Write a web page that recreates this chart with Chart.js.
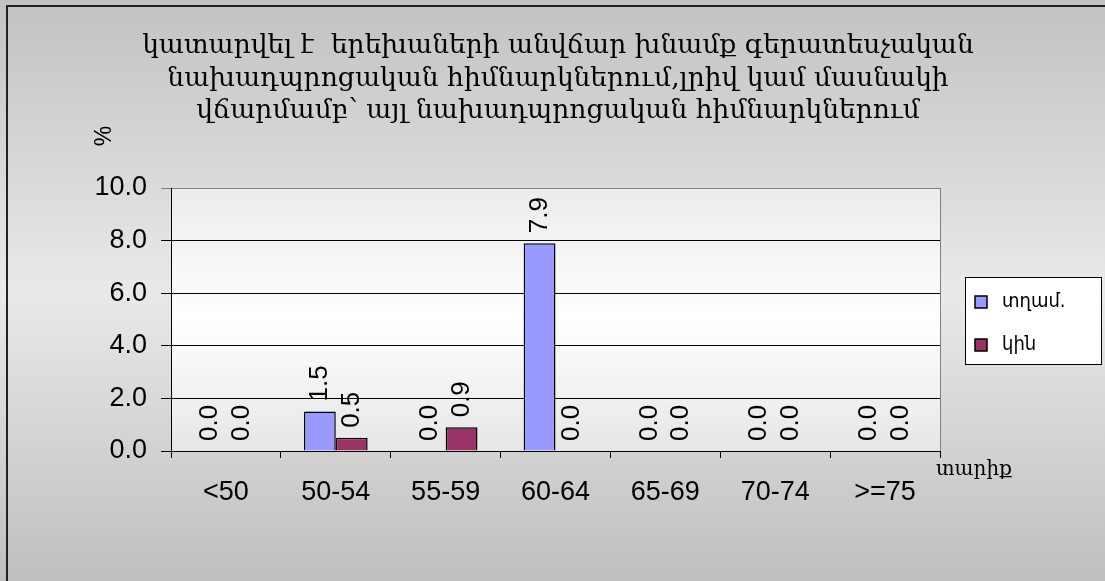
<!DOCTYPE html>
<html>
<head>
<meta charset="utf-8">
<script src="https://cdn.jsdelivr.net/npm/chart.js@4/dist/chart.umd.min.js"></script>
<style>
  body { margin: 0; background: #fff; }
  #wrap { width: 1105px; height: 581px; }
</style>
</head>
<body>
<div id="wrap"><canvas id="chart" width="1105" height="581"></canvas></div>
<script>
// chart data
const categories = ['<50', '50-54', '55-59', '60-64', '65-69', '70-74', '>=75'];
const menValues = [0.0, 1.5, 0.0, 7.9, 0.0, 0.0, 0.0];
const womenValues = [0.0, 0.5, 0.9, 0.0, 0.0, 0.0, 0.0];
const seriesNames = ['տղամ.', 'կին'];
const titleLines = [
  'կատարվել է  երեխաների անվճար խնամք գերատեսչական',
  'նախադպրոցական հիմնարկներում,լրիվ կամ մասնակի',
  'վճարմամբ՝ այլ նախադպրոցական հիմնարկներում'
];
const yAxisLabel = '%';
const xAxisLabel = 'տարիք';

const sansFont = '"Liberation Sans", Arial, "DejaVu Sans", sans-serif';
const serifFont = '"DejaVu Serif", serif';

// backgrounds, border, title, extra axis labels
const decorPlugin = {
  id: 'decor',
  beforeDraw(chart) {
    const ctx = chart.ctx;
    const w = chart.width, h = chart.height;
    let g = ctx.createLinearGradient(0, 0, 0, h);
    g.addColorStop(0, '#c2c2c2');
    g.addColorStop(0.5, '#e9e9e9');
    g.addColorStop(1, '#bfbfbf');
    ctx.save();
    ctx.fillStyle = g;
    ctx.fillRect(0, 0, w, h);

    const a = chart.chartArea;
    g = ctx.createLinearGradient(0, a.top, 0, a.bottom);
    g.addColorStop(0, '#ececec');
    g.addColorStop(0.5, '#ffffff');
    g.addColorStop(1, '#e6e6e6');
    ctx.fillStyle = g;
    ctx.fillRect(a.left, a.top, a.right - a.left, a.bottom - a.top);

    ctx.strokeStyle = '#222';
    ctx.lineWidth = 2;
    ctx.strokeRect(7, 6, w + 10, h + 10);
    ctx.restore();
  },
  afterDraw(chart) {
    const ctx = chart.ctx;
    const a = chart.chartArea;
    ctx.save();
    // right border of plot
    ctx.strokeStyle = '#808080';
    ctx.lineWidth = 1;
    ctx.beginPath();
    ctx.moveTo(a.right + 0.5, a.top);
    ctx.lineTo(a.right + 0.5, a.bottom);
    ctx.stroke();

    ctx.fillStyle = '#000';
    ctx.textAlign = 'center';
    ctx.textBaseline = 'alphabetic';
    ctx.font = '26.5px ' + serifFont;
    titleLines.forEach((line, i) => {
      ctx.fillText(line, 558, 53 + i * 32.5);
    });

    ctx.font = '20px ' + serifFont;
    ctx.textAlign = 'left';
    ctx.fillText(xAxisLabel, 936, 475);

    ctx.translate(105, 136);
    ctx.rotate(-Math.PI / 2);
    ctx.textAlign = 'center';
    ctx.textBaseline = 'middle';
    ctx.font = '23px ' + sansFont;
    ctx.fillText(yAxisLabel, 0, 0);
    ctx.restore();
  }
};

// rotated value labels above bars
const valueLabels = {
  id: 'valueLabels',
  afterDatasetsDraw(chart) {
    const ctx = chart.ctx;
    ctx.save();
    ctx.fillStyle = '#000';
    ctx.font = '26px ' + sansFont;
    ctx.textAlign = 'left';
    ctx.textBaseline = 'middle';
    chart.data.datasets.forEach((ds, i) => {
      chart.getDatasetMeta(i).data.forEach((bar, j) => {
        ctx.save();
        ctx.translate(bar.x, bar.y - 10);
        ctx.rotate(-Math.PI / 2);
        ctx.fillText(ds.data[j].toFixed(1), 0, 0);
        ctx.restore();
      });
    });
    ctx.restore();
  }
};

// boxed legend on the right
const boxLegend = {
  id: 'boxLegend',
  afterDraw(chart) {
    const ctx = chart.ctx;
    ctx.save();
    ctx.fillStyle = '#fff';
    ctx.fillRect(965, 277, 136, 87);
    ctx.strokeStyle = '#000';
    ctx.lineWidth = 1;
    ctx.strokeRect(965.5, 277.5, 136, 87);
    ctx.font = '20px "DejaVu Sans Condensed", "DejaVu Sans", sans-serif';
    ctx.textBaseline = 'middle';
    chart.data.datasets.forEach((ds, i) => {
      const cy = 302 + i * 43;
      ctx.fillStyle = ds.backgroundColor;
      ctx.fillRect(975, cy - 6, 12, 12);
      ctx.strokeStyle = '#000';
      ctx.lineWidth = 1.5;
      ctx.strokeRect(975, cy - 6, 12, 12);
      ctx.fillStyle = '#000';
      ctx.fillText(ds.label, 1002, cy);
    });
    ctx.restore();
  }
};

new Chart(document.getElementById('chart'), {
  type: 'bar',
  data: {
    labels: categories,
    datasets: [
      { label: seriesNames[0], data: menValues, backgroundColor: '#9999ff', borderColor: '#000', borderWidth: 1.5 },
      { label: seriesNames[1], data: womenValues, backgroundColor: '#993366', borderColor: '#000', borderWidth: 1.5 }
    ]
  },
  options: {
    responsive: false,
    animation: false,
    datasets: { bar: { barPercentage: 1, categoryPercentage: 0.58 } },
    layout: { padding: { left: 81, top: 188, right: 165, bottom: 70 } },
    plugins: {
      legend: { display: false },
      title: { display: false },
      tooltip: { enabled: false }
    },
    scales: {
      x: {
        afterFit(s) { s.height = 60; },
        grid: { drawOnChartArea: false, color: '#000', tickLength: 7 },
        border: { color: '#000', width: 1 },
        ticks: { color: '#000', font: { family: sansFont, size: 27 }, padding: 18, maxRotation: 0 }
      },
      y: {
        min: 0,
        max: 10,
        afterFit(s) { s.width = 90; },
        grid: {
          color: ctx => (ctx.tick && ctx.tick.value === 10 ? '#808080' : '#000'),
          tickLength: 10
        },
        border: { color: '#000', width: 1 },
        ticks: {
          stepSize: 2,
          color: '#000',
          padding: 14,
          font: { family: sansFont, size: 27 },
          callback: v => v.toFixed(1)
        }
      }
    }
  },
  plugins: [decorPlugin, valueLabels, boxLegend]
});
</script>
</body>
</html>
